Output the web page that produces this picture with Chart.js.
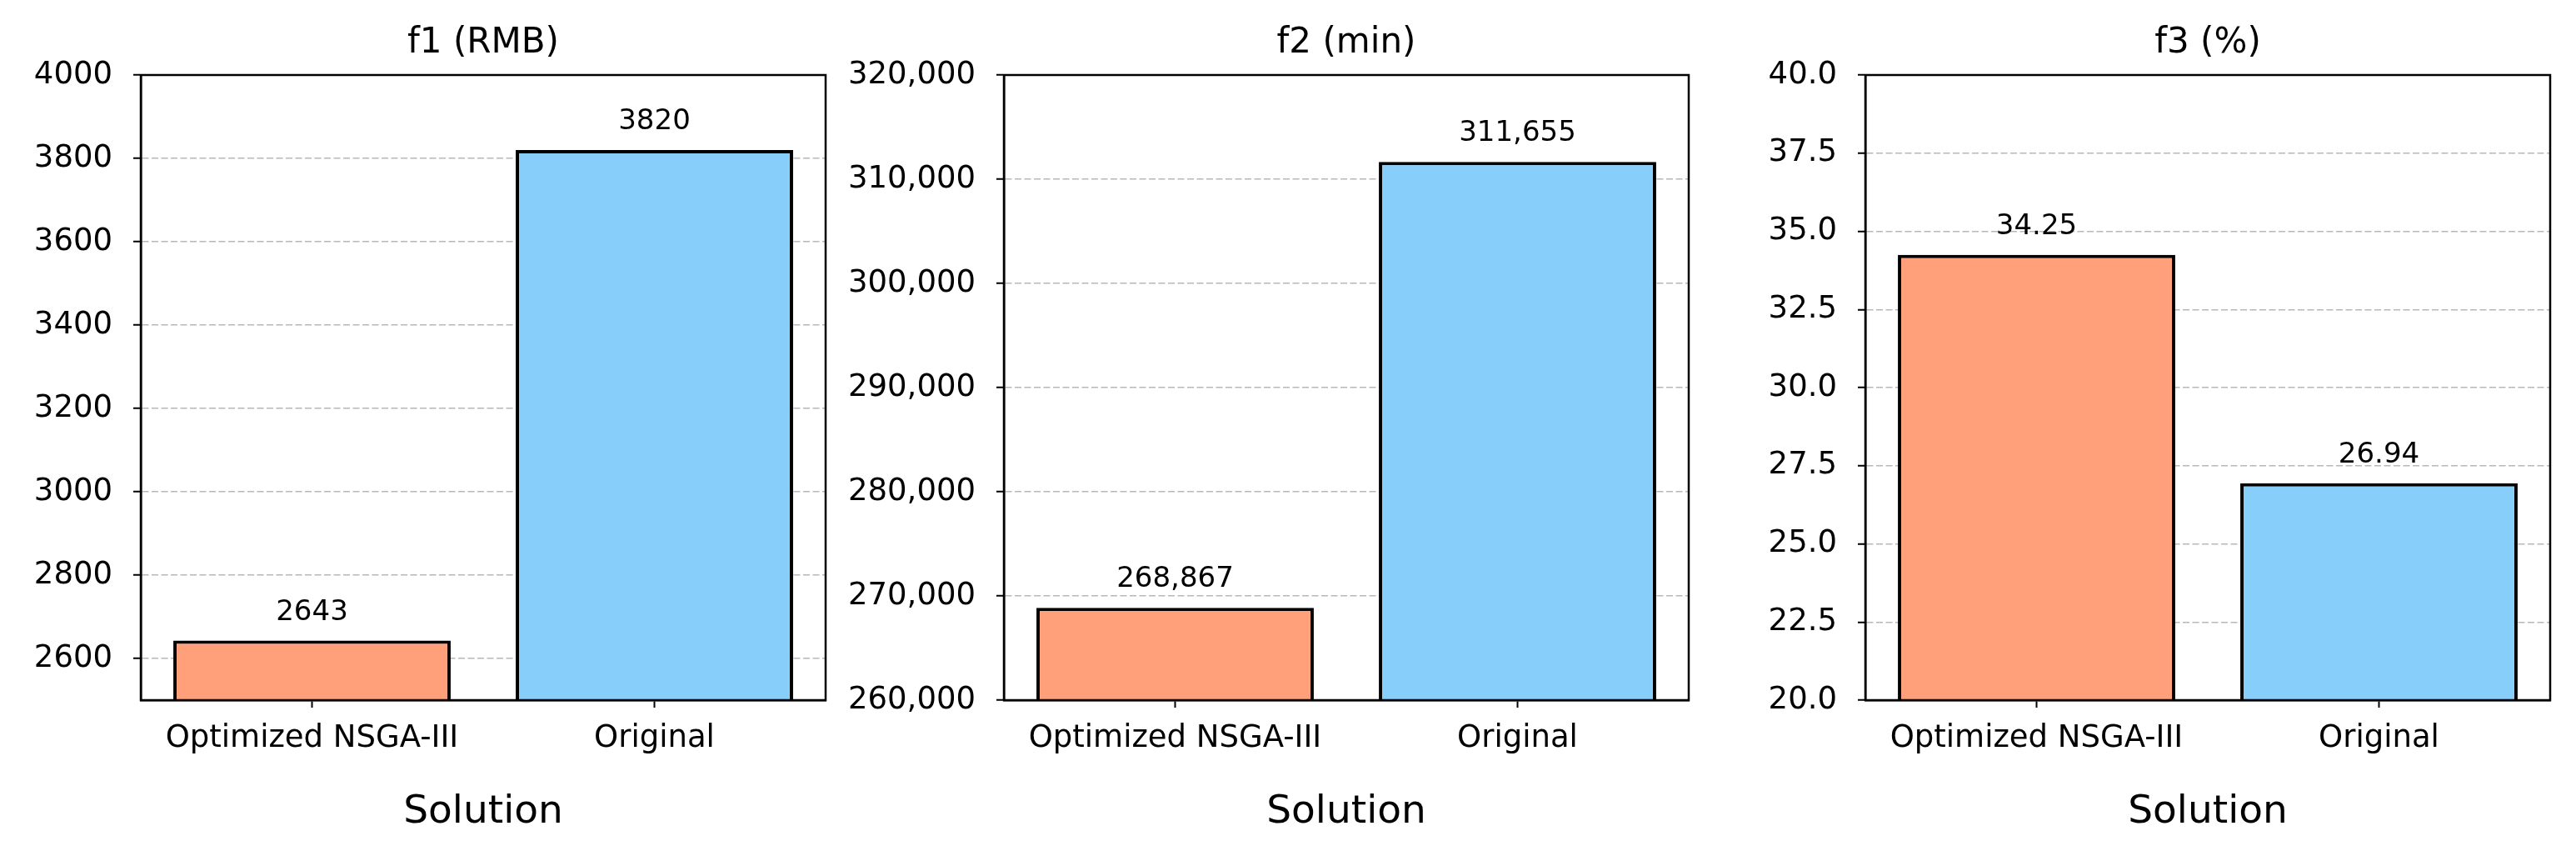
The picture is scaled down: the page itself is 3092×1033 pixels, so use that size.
<!DOCTYPE html>
<html>
<head>
<meta charset="utf-8">
<script src="https://cdn.jsdelivr.net/npm/chart.js@4.4.1/dist/chart.umd.min.js"></script>
<style>
body{margin:0;background:#fff;width:3092px;height:1033px;position:relative;overflow:hidden}
canvas{position:absolute;top:0}
</style>
</head>
<body>
<canvas id="chart-1" width="1011" height="1033" style="left:0px"></canvas>
<canvas id="chart-2" width="1047" height="1033" style="left:1000px"></canvas>
<canvas id="chart-3" width="1011" height="1033" style="left:2070px"></canvas>
<script>
// data
const solutions = ['Optimized NSGA-III', 'Original']
const f1Values = [2643, 3820]
const f2Values = [268867, 311655]
const f3Values = [34.25, 26.94]

// y ticks
const f1Ticks = [2600, 2800, 3000, 3200, 3400, 3600, 3800, 4000]
const f2Ticks = [260000, 270000, 280000, 290000, 300000, 310000, 320000]
const f3Ticks = [20, 22.5, 25, 27.5, 30, 32.5, 35, 37.5, 40]

const barColors = ['#FFA07A', '#87CEFA']
const fontName = '"DejaVu Sans", sans-serif'

function makeChart(id, yAxisWidth, title, values, yMin, yMax, ticks, tickFmt, labelFmt) {

  // value text above each bar + box round the plot
  const extras = {
    id: 'extras',
    afterDraw(chart) {
      const ctx = chart.ctx
      const a = chart.chartArea
      ctx.save()
      ctx.strokeStyle = '#000'
      ctx.lineWidth = 2.5
      ctx.strokeRect(a.left, a.top, a.right - a.left, a.bottom - a.top)
      ctx.font = '34px ' + fontName
      ctx.fillStyle = '#000'
      ctx.textAlign = 'center'
      ctx.textBaseline = 'alphabetic'
      chart.getDatasetMeta(0).data.forEach((bar, i) => {
        ctx.fillText(labelFmt(values[i]), bar.x, bar.y - 25)
      })
      ctx.restore()
    }
  }

  new Chart(document.getElementById(id), {
    type: 'bar',
    data: {
      labels: solutions,
      datasets: [{
        data: values,
        backgroundColor: barColors,
        borderColor: '#000',
        borderWidth: 4,
        borderSkipped: false,
        barPercentage: 0.81,
        categoryPercentage: 1.0
      }]
    },
    options: {
      responsive: false,
      animation: false,
      layout: {padding: {left: 0, right: 20, top: 0, bottom: 0}},
      plugins: {
        legend: {display: false},
        tooltip: {enabled: false},
        title: {
          display: true,
          text: title,
          fullSize: false,
          color: '#000',
          font: {family: fontName, size: 42, weight: 'normal', lineHeight: 1.2},
          padding: {top: 27, bottom: 12.6}
        }
      },
      scales: {
        x: {
          grid: {display: true, drawOnChartArea: false, offset: false, tickLength: 9, tickColor: '#000', tickWidth: 2},
          border: {display: true, color: '#000', width: 2.5},
          ticks: {color: '#000', padding: 15, font: {family: fontName, size: 37}},
          title: {
            display: true,
            text: 'Solution',
            color: '#000',
            font: {family: fontName, size: 47},
            padding: {top: 0, bottom: 30}
          },
          afterFit(scale) { scale.height = 193 }
        },
        y: {
          min: yMin,
          max: yMax,
          z: 1,
          grid: {color: '#b8b8b8', lineWidth: 1.5, tickLength: 9, tickColor: '#000', tickWidth: 2, tickBorderDash: []},
          border: {display: true, color: '#000', width: 2.5, dash: [8, 3.5]},
          ticks: {
            color: '#000',
            padding: 25,
            font: {family: fontName, size: 37},
            callback: (v) => tickFmt(v)
          },
          afterBuildTicks(scale) { scale.ticks = ticks.map(v => ({value: v})) },
          afterFit(scale) { scale.width = yAxisWidth }
        }
      }
    },
    plugins: [extras]
  })
}

makeChart('chart-1', 169, 'f1 (RMB)', f1Values, 2500, 4000, f1Ticks, v => String(v), v => String(v))
makeChart('chart-2', 205, 'f2 (min)', f2Values, 260000, 320000, f2Ticks, v => v.toLocaleString('en-US'), v => v.toLocaleString('en-US'))
makeChart('chart-3', 169, 'f3 (%)', f3Values, 20, 40, f3Ticks, v => v.toFixed(1), v => v.toFixed(2))
</script>
</body>
</html>
